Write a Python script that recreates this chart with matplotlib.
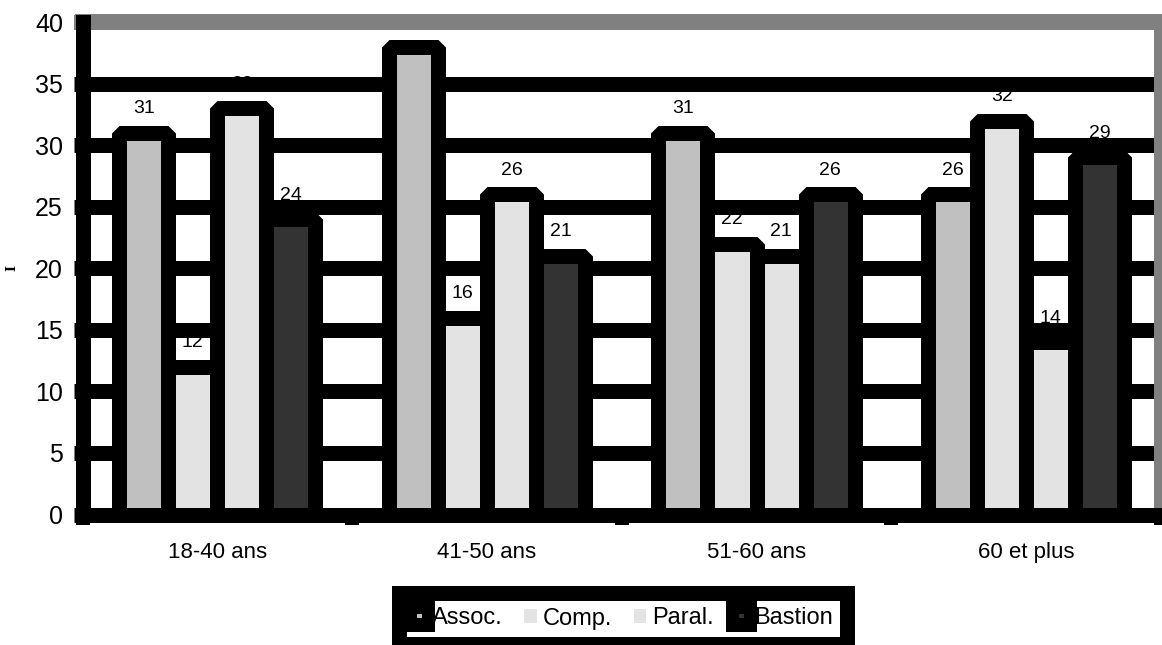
import matplotlib
matplotlib.use("Agg")
import matplotlib.pyplot as plt
from matplotlib.patches import Patch
from matplotlib.ticker import FixedLocator, NullFormatter
import numpy as np

plt.rcParams['font.family'] = ['Liberation Sans', 'DejaVu Sans']

# Data
categories = ["18-40 ans", "41-50 ans", "51-60 ans", "60 et plus"]
series_names = ["Assoc.", "Comp.", "Paral.", "Bastion"]
assoc = [31, 38, 31, 26]
comp = [12, 16, 22, 32]
paral = [33, 26, 21, 14]
bastion = [24, 21, 26, 29]
series_values = [assoc, comp, paral, bastion]
series_colors = ["#C0C0C0", "#E3E3E3", "#E3E3E3", "#333333"]
y_ticks = [0, 5, 10, 15, 20, 25, 30, 35, 40]

W, H = 1162, 645
fig = plt.figure(figsize=(W / 100, H / 100), dpi=100)
ax = fig.add_axes([82.5 / W, 1 - 514.5 / H, (1161 - 82.5) / W, (514.5 - 22) / H])

px = 72 / 100  # points per pixel
x = np.arange(len(categories))
bar_w = 0.182
n = len(series_names)

ax.set_axisbelow(True)
for i, (vals, col) in enumerate(zip(series_values, series_colors)):
    offs = (i - (n - 1) / 2) * bar_w
    bars = ax.bar(x + offs, vals, width=bar_w, color=col, edgecolor="black",
                  linewidth=15 * px, zorder=2)
    for b in bars:
        b.set_joinstyle("bevel")
    # value labels sit underneath the grid lines
    for xi, v in zip(x + offs, vals):
        ax.annotate(f"{v}", (xi, v), xytext=(0, 19.5 * px), textcoords="offset points",
                    ha="center", va="baseline", fontsize=14, color="black", zorder=0.3,
                    annotation_clip=False)

ax.set_xlim(-0.5, len(categories) - 0.5)
ax.set_ylim(0, 40)

# y axis
ax.set_yticks(y_ticks)
ax.set_yticklabels([str(t) for t in y_ticks], fontsize=18)
ax.tick_params(axis="y", direction="out", length=9.5 * px, width=15 * px, color="black",
               pad=10 * px)
ax.yaxis.grid(True, color="black", linewidth=15 * px)
ax.xaxis.grid(False)

# x axis: labels at centers, tick marks at category boundaries
ax.set_xticks(x)
ax.set_xticklabels(categories, fontsize=16)
ax.tick_params(axis="x", which="major", length=0, pad=20)
ax.xaxis.set_minor_locator(FixedLocator(np.arange(-0.5, len(categories), 1.0)))
ax.xaxis.set_minor_formatter(NullFormatter())
ax.tick_params(axis="x", which="minor", direction="out", length=9.5 * px,
               width=14 * px, color="black")

# spines
ax.spines["left"].set_color("black")
ax.spines["left"].set_linewidth(15 * px)
ax.spines["bottom"].set_color("black")
ax.spines["bottom"].set_linewidth(15 * px)
ax.spines["top"].set_color("#808080")
ax.spines["top"].set_linewidth(16 * px)
ax.spines["right"].set_color("#808080")
ax.spines["right"].set_linewidth(14 * px)
ax.spines["top"].set_zorder(3)
ax.spines["right"].set_zorder(3)
ax.spines["left"].set_zorder(4)
ax.spines["bottom"].set_zorder(4)
for s in ax.spines.values():
    s.set_capstyle("projecting")

ax.set_ylabel("I", fontfamily="DejaVu Serif", fontweight="bold", fontsize=9)
ax.yaxis.set_label_coords((18 - 82.5) / (1161 - 82.5), 0.5)

# legend
handles = [
    Patch(facecolor=series_colors[0], edgecolor="black", linewidth=18 * px),
    Patch(facecolor=series_colors[1], edgecolor="none"),
    Patch(facecolor=series_colors[2], edgecolor="none"),
    Patch(facecolor=series_colors[3], edgecolor="black", linewidth=18 * px),
]
leg = fig.legend(handles, series_names, loc="center",
                 bbox_to_anchor=(623 / W, 1 - 618.5 / H), ncol=4, fontsize=17,
                 frameon=True, fancybox=False, framealpha=1,
                 handlelength=0.55, handleheight=0.55, handletextpad=0.25,
                 columnspacing=0.9, borderpad=0.6, borderaxespad=0)
frame = leg.get_frame()
frame.set_edgecolor("black")
frame.set_linewidth(15 * px)
frame.set_facecolor("white")

fig.savefig("out.png", dpi=100)
